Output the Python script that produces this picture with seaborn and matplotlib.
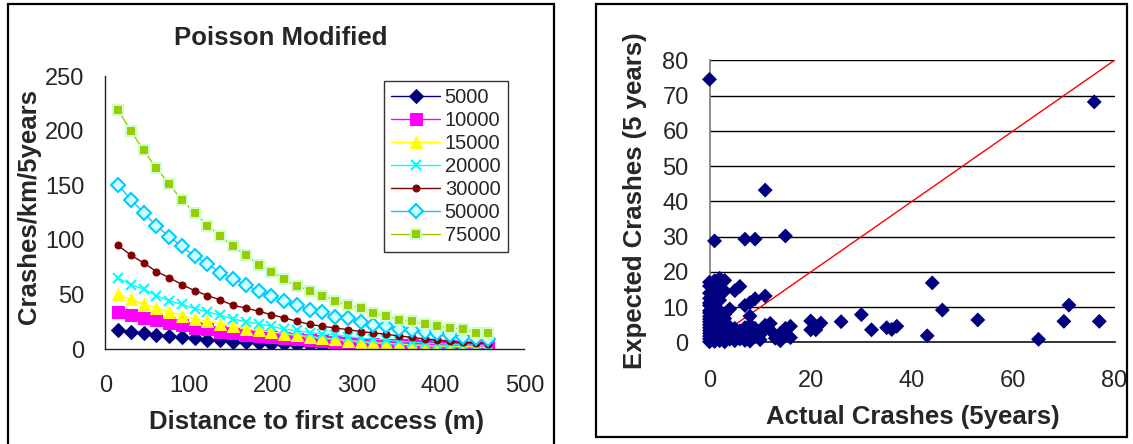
import matplotlib
matplotlib.use("Agg")
import matplotlib.pyplot as plt
import numpy as np
import pandas as pd
import seaborn as sns
from matplotlib.patches import Rectangle

sns.set_theme(style="white")
plt.rcParams["font.family"] = ["Liberation Sans", "DejaVu Sans"]

# ---- left panel: Poisson Modified curves (distance in 50 ft steps)
distance_m = [15.24, 30.48, 45.72, 60.96, 76.2, 91.44, 106.68, 121.92, 137.16, 152.4,
              167.64, 182.88, 198.12, 213.36, 228.6, 243.84, 259.08, 274.32, 289.56, 304.8,
              320.04, 335.28, 350.52, 365.76, 381.0, 396.24, 411.48, 426.72, 441.96, 457.2]

aadt_5000 = [17.4, 16.0, 14.7, 13.0, 12.0, 10.7, 9.8, 8.3, 8.0, 6.4,
             6.0, 5.5, 4.9, 4.3, 3.7, 3.4, 2.8, 2.4, 2.1, 1.8,
             1.5, 1.2, 1.0, 0.9, 0.7, 0.6, 0.5, 0.4, 0.3, 0.3]
aadt_10000 = [34.0, 31.5, 28.0, 26.6, 24.0, 22.0, 19.6, 18.0, 16.0, 14.4,
              13.0, 12.0, 11.0, 9.8, 8.9, 8.0, 7.0, 6.0, 5.5, 4.9,
              4.6, 4.0, 3.7, 3.4, 3.0, 2.8, 2.4, 2.1, 1.8, 1.8]
aadt_15000 = [50.0, 45.6, 41.0, 38.0, 34.0, 30.6, 27.5, 25.4, 23.0, 21.0,
              18.4, 17.0, 15.6, 14.0, 12.5, 11.3, 10.0, 9.0, 7.7, 6.7,
              5.8, 5.2, 4.6, 3.7, 3.4, 2.8, 2.4, 2.1, 1.8, 1.5]
aadt_20000 = [65.0, 59.0, 55.0, 49.0, 44.0, 41.0, 37.0, 34.0, 31.0, 27.5,
              25.0, 23.0, 21.0, 18.0, 17.0, 15.0, 14.0, 13.0, 11.3, 10.0,
              9.0, 8.3, 7.0, 6.4, 5.5, 5.0, 4.3, 3.7, 3.4, 3.0]
aadt_30000 = [95.0, 86.0, 79.0, 71.0, 65.5, 59.0, 53.5, 49.0, 45.0, 40.0,
              37.6, 34.6, 31.5, 28.5, 25.4, 22.6, 20.8, 19.3, 17.7, 16.0,
              14.7, 13.5, 12.0, 10.7, 9.2, 8.3, 7.0, 6.0, 5.5, 5.0]
aadt_50000 = [150.5, 137.0, 125.0, 113.0, 103.0, 94.0, 85.0, 78.0, 70.0, 64.5,
              59.0, 53.0, 48.6, 44.0, 40.0, 36.0, 34.0, 29.7, 28.0, 24.5,
              22.0, 20.8, 18.4, 17.7, 16.0, 14.7, 13.0, 11.0, 10.0, 9.0]
aadt_75000 = [219.0, 200.0, 182.0, 166.0, 151.0, 136.5, 125.0, 113.0, 104.0, 94.0,
              86.0, 77.0, 71.0, 64.0, 58.0, 53.5, 49.0, 44.0, 40.0, 37.6,
              33.0, 30.0, 27.0, 25.4, 22.6, 21.0, 19.6, 18.0, 15.0, 15.0]

series_labels = ["5000", "10000", "15000", "20000", "30000", "50000", "75000"]
series_values = [aadt_5000, aadt_10000, aadt_15000, aadt_20000, aadt_30000, aadt_50000, aadt_75000]

# ---- right panel: expected vs actual crashes
actual = [0, 76, 11, 1, 7, 9, 15, 44, 46, 53, 65, 70, 71, 77, 43, 37, 36, 35, 32, 30,
          26, 22, 21, 20, 20, 21, 16, 16, 15, 14, 14, 12, 12, 11, 11, 8, 9, 8, 7, 6,
          5, 4, 3, 2, 0, 0, 0, 2, 3, 1, 0, 1, 3, 10, 8, 9, 1, 2, 1, 0,
          0, 0, 0, 0, 0, 0, 0, 0, 0, 0, 0, 0, 0,
          1, 1, 1, 1, 1, 1, 1, 1, 1,
          2, 2, 2, 2, 2, 2, 2, 2, 2,
          3, 3, 3, 3, 3, 3,
          4, 4, 4, 4,
          5, 5, 5, 5,
          6, 6, 6,
          7, 7, 7, 7,
          8, 8, 8, 8,
          9, 9, 10, 13]
expected = [74.6, 68.2, 43.2, 28.8, 29.3, 29.3, 30.2, 16.9, 9.2, 6.4, 0.9, 6.0, 10.6, 6.0, 1.9, 4.6, 3.7, 4.2, 3.6, 7.9,
            5.9, 5.5, 4.5, 6.1, 3.6, 3.6, 4.6, 1.4, 4.0, 0.5, 2.6, 5.4, 3.5, 13.2, 4.9, 7.5, 12.4, 11.3, 10.5, 15.9,
            14.7, 9.5, 17.6, 18.2, 17.1, 14.0, 12.5, 12.0, 14.6, 15.5, 9.0, 8.6, 8.0, 0.8, 0.4, 4.0, 17.5, 16.4, 13.0, 16.0,
            0.2, 1.0, 1.8, 2.6, 3.4, 4.2, 5.0, 5.8, 6.6, 7.4, 8.4, 10.5, 11.2,
            0.3, 1.2, 2.0, 3.1, 4.0, 5.2, 6.3, 7.2, 9.8,
            0.5, 1.5, 2.7, 3.6, 4.8, 6.0, 7.5, 9.0, 13.5,
            0.2, 1.3, 2.4, 3.8, 5.4, 6.8,
            0.9, 2.0, 3.1, 4.4,
            0.5, 1.7, 2.9, 4.0,
            1.0, 2.2, 3.3,
            0.6, 1.8, 2.9, 4.2,
            1.2, 2.5, 3.6, 5.0,
            1.6, 2.8, 2.2, 1.2]

W, H = 1133, 444
fig = plt.figure(figsize=(W / 100, H / 100), dpi=100)

# chart-area frames
fig.patches.append(Rectangle((8 / W, -0.05), 546 / W, 1.05 - 4 / H, transform=fig.transFigure,
                             fill=False, edgecolor="black", linewidth=1.6, zorder=0))
fig.patches.append(Rectangle((596 / W, 1 - 437 / H), 531 / W, 433 / H, transform=fig.transFigure,
                             fill=False, edgecolor="black", linewidth=1.6, zorder=0))

ax1 = fig.add_axes([105.3 / W, 1 - 349 / H, 419 / W, 272.7 / H])
ax2 = fig.add_axes([709.5 / W, 1 - 342.5 / H, 405 / W, 282.2 / H])

styles = [
    dict(color="#000080", marker="D", markersize=7, markerfacecolor="#000080", markeredgecolor="#000080"),
    dict(color="#FF00FF", marker="s", markersize=8, markerfacecolor="#FF00FF", markeredgecolor="#FF00FF"),
    dict(color="#FFFF00", marker="^", markersize=8, markerfacecolor="#FFFF00", markeredgecolor="#FFFF00"),
    dict(color="#00FFFF", marker="x", markersize=7, markeredgewidth=1.5, markeredgecolor="#00FFFF"),
    dict(color="#800000", marker="o", markersize=5, markerfacecolor="#800000", markeredgecolor="#800000"),
    dict(color="#00CCFF", marker="D", markersize=7, markerfacecolor="#CCFFFF", markeredgecolor="#00CCFF",
         markeredgewidth=1.5),
    dict(color="#99CC00", marker="s", markersize=7, markerfacecolor="#99CC00", markeredgecolor="#CCFFCC",
         markeredgewidth=1.5),
]

for label, vals, st in zip(series_labels, series_values, styles):
    sns.lineplot(x=distance_m, y=vals, ax=ax1, label=label, linewidth=1.0, **st)

ax1.set_xlim(0, 500)
ax1.set_ylim(0, 250)
ax1.set_xticks(range(0, 501, 100))
ax1.set_yticks(range(0, 251, 50))
for side in ["top", "right"]:
    ax1.spines[side].set_visible(False)
for side in ["left", "bottom"]:
    ax1.spines[side].set_color("#202020")
    ax1.spines[side].set_linewidth(1.0)
ax1.tick_params(axis="both", direction="out", length=7, width=1, color="#202020", labelsize=17)
ax1.tick_params(axis="x", pad=12)
ax1.tick_params(axis="y", pad=8)
ax1.set_xlabel("Distance to first access (m)", fontsize=18.5, fontweight="bold", va="top")
ax1.set_ylabel("Crashes/km/5years", fontsize=18.5, fontweight="bold")
ax1.xaxis.set_label_coords(0.503, -0.222)
ax1.yaxis.set_label_coords(-0.153, 0.522)
ax1.set_title("Poisson Modified", fontsize=18.5, fontweight="bold", x=0.419, y=1.115, pad=0)

leg = ax1.legend(loc="upper left", bbox_to_anchor=(384.3 / W, 1 - 81 / H), bbox_transform=fig.transFigure,
                 borderaxespad=0, fontsize=14.5, frameon=True, fancybox=False, shadow=False,
                 handlelength=2.4, handletextpad=0.25, labelspacing=0.2, borderpad=0.35)
leg.get_frame().set_edgecolor("black")
leg.get_frame().set_linewidth(1.0)

# right panel
ax2.plot([0, 80], [0, 80], color="#FF0000", linewidth=1.0, zorder=2)
sns.scatterplot(x=actual, y=expected, ax=ax2, marker="D", s=58, color="#000080", edgecolor="none",
                linewidth=0, zorder=3, clip_on=False)
ax2.set_xlim(0, 80)
ax2.set_ylim(0, 80)
ax2.set_xticks(range(0, 81, 20))
ax2.set_yticks(range(0, 81, 10))
ax2.yaxis.grid(True, color="black", linewidth=1.0)
ax2.set_axisbelow(True)
for side in ["top", "right"]:
    ax2.spines[side].set_visible(False)
ax2.spines["left"].set_color("#808080")
ax2.spines["bottom"].set_color("#202020")
ax2.tick_params(axis="both", direction="out", length=7, width=1, color="#404040", labelsize=17)
ax2.tick_params(axis="x", pad=13)
ax2.tick_params(axis="y", pad=8)
ax2.set_xlabel("Actual Crashes (5years)", fontsize=18.5, fontweight="bold", va="top")
ax2.set_ylabel("Expected Crashes (5 years)", fontsize=18.5, fontweight="bold")
ax2.xaxis.set_label_coords(0.503, -0.222)
ax2.yaxis.set_label_coords(-0.1536, 0.502)

fig.savefig("out.png", dpi=100)
